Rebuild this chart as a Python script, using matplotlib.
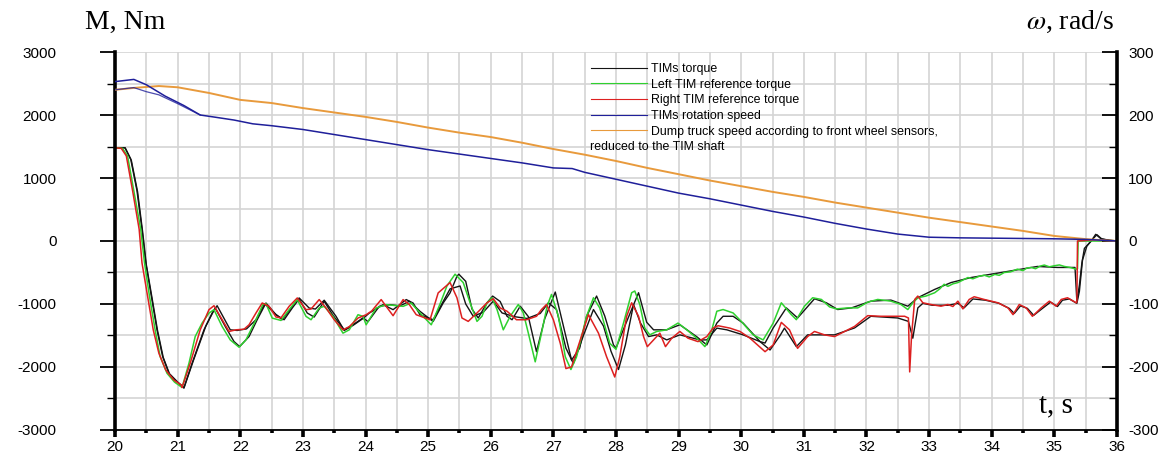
import matplotlib
matplotlib.use("Agg")
import matplotlib.pyplot as plt
from matplotlib.lines import Line2D
from matplotlib.ticker import MultipleLocator

plt.rcParams["font.family"] = ["Liberation Sans", "DejaVu Sans"]
plt.rcParams["mathtext.fontset"] = "stix"
plt.rcParams["axes.unicode_minus"] = False

# left TIM reference torque (green), Nm
t_left_ref = [20.0, 20.12, 20.2, 20.3, 20.41, 20.47, 20.55, 20.64, 20.72, 20.83, 20.95, 21.07,
              21.18, 21.28, 21.39, 21.5, 21.58, 21.71, 21.84, 21.98, 22.09, 22.25, 22.36, 22.41,
              22.51, 22.65, 22.78, 22.91, 23.05, 23.13, 23.26, 23.34, 23.48, 23.64, 23.74, 23.88,
              23.96, 24.01, 24.17, 24.33, 24.49, 24.6, 24.73, 24.92, 25.05, 25.19, 25.3, 25.43,
              25.56, 25.67, 25.78, 25.86, 25.94, 26.02, 26.1, 26.2, 26.31, 26.44, 26.52, 26.6,
              26.71, 26.81, 26.9, 26.97, 27.08, 27.19, 27.28, 27.37, 27.53, 27.64, 27.74, 27.9,
              28.0, 28.12, 28.25, 28.3, 28.38, 28.46, 28.54, 28.65, 28.81, 28.99, 29.13, 29.29,
              29.42, 29.53, 29.61, 29.71, 29.87, 30.0, 30.19, 30.35, 30.51, 30.64, 30.8, 30.88,
              31.01, 31.14, 31.28, 31.41, 31.52, 31.7, 31.86, 32.02, 32.18, 32.39, 32.55, 32.66,
              32.74, 32.82, 32.95, 33.09, 33.17, 33.24, 33.3, 33.38, 33.46, 33.54, 33.62, 33.7,
              33.8, 33.88, 33.96, 34.05, 34.12, 34.2, 34.3, 34.41, 34.5, 34.56, 34.63, 34.7,
              34.77, 34.84, 34.92, 35.0, 35.08, 35.16, 35.25, 35.35, 35.37, 35.38, 36.0]
left_ref = [1480, 1470, 1350, 800, 186, -346, -878, -1410, -1835, -2100, -2240, -2325,
            -1942, -1516, -1303, -1144, -1090, -1357, -1570, -1686, -1570, -1250, -1010, -995,
            -1224, -1261, -1090, -930, -1197, -1250, -1064, -1037, -1197, -1463, -1410, -1170,
            -1197, -1330, -1064, -1010, -1027, -1037, -984, -1197, -1330, -1000, -714, -527,
            -660, -981, -1276, -1195, -981, -901, -1088, -1410, -1195, -1008, -1142, -1463,
            -1918, -1463, -1035, -848, -1195, -1838, -2040, -1838, -1195, -901, -1062, -1624,
            -1720, -1303, -821, -794, -1008, -1383, -1490, -1436, -1410, -1303, -1410, -1543,
            -1677, -1410, -1115, -1088, -1142, -1276, -1490, -1570, -1303, -981, -1169, -1249,
            -1035, -901, -928, -1046, -1078, -1062, -1062, -971, -928, -955, -1008, -1088,
            -981, -901, -874, -821, -760, -687, -720, -680, -660, -620, -580, -600,
            -560, -543, -570, -530, -545, -500, -490, -447, -470, -430, -420, -440,
            -400, -382, -410, -393, -380, -404, -420, -447, -440, 0, 0]

# right TIM reference torque (red), Nm
t_right_ref = [20.0, 20.1, 20.18, 20.28, 20.385, 20.43, 20.52, 20.61, 20.7, 20.81, 20.94, 21.06,
               21.07, 21.2, 21.36, 21.5, 21.58, 21.71, 21.82, 21.93, 22.06, 22.14, 22.25, 22.35,
               22.46, 22.57, 22.65, 22.78, 22.91, 23.05, 23.13, 23.26, 23.37, 23.5, 23.64, 23.74,
               23.88, 24.01, 24.1, 24.25, 24.33, 24.44, 24.6, 24.7, 24.81, 25.03, 25.16, 25.35,
               25.46, 25.54, 25.64, 25.78, 25.94, 26.04, 26.15, 26.26, 26.41, 26.57, 26.73, 26.81,
               26.89, 27.0, 27.11, 27.2, 27.29, 27.43, 27.56, 27.72, 27.85, 27.98, 28.06, 28.17,
               28.25, 28.36, 28.44, 28.5, 28.6, 28.7, 28.79, 28.89, 29.02, 29.15, 29.31, 29.45,
               29.55, 29.63, 29.82, 29.98, 30.14, 30.38, 30.51, 30.64, 30.77, 30.9, 31.06, 31.17,
               31.33, 31.49, 31.65, 31.81, 32.02, 32.23, 32.45, 32.61, 32.67, 32.69, 32.72, 32.77,
               32.82, 32.9, 33.03, 33.19, 33.3, 33.38, 33.46, 33.54, 33.64, 33.72, 33.88, 34.1,
               34.26, 34.34, 34.44, 34.55, 34.65, 34.79, 34.92, 35.03, 35.11, 35.21, 35.35, 35.36,
               35.37, 35.6, 36.0]
right_ref = [1480, 1470, 1350, 800, 186, -346, -878, -1410, -1782, -2048, -2208, -2288,
             -2325, -1942, -1410, -1090, -1027, -1250, -1436, -1410, -1400, -1330, -1144, -984,
             -1037, -1207, -1220, -1037, -904, -1090, -1080, -930, -1064, -1250, -1410, -1360,
             -1223, -1170, -1110, -930, -1037, -1186, -930, -1010, -1170, -1250, -824, -660,
             -901, -1222, -1276, -1142, -981, -917, -1062, -1115, -1250, -1250, -1195, -1088,
             -1008, -1250, -1624, -2025, -1998, -1570, -1169, -1463, -1838, -2159, -1838, -1195,
             -981, -1195, -1517, -1677, -1570, -1463, -1677, -1543, -1436, -1543, -1597, -1517,
             -1383, -1345, -1383, -1436, -1543, -1757, -1650, -1292, -1410, -1704, -1517, -1436,
             -1490, -1517, -1436, -1356, -1185, -1195, -1195, -1195, -1222, -2078, -1500, -928,
             -874, -981, -1008, -1035, -1008, -1040, -955, -1078, -928, -885, -928, -981,
             -1062, -1169, -1008, -1062, -1195, -1062, -955, -1035, -928, -901, -981, -960,
             0, 15, 0]

# TIMs torque, left machine (black), Nm
t_left_torque = [20.0, 20.16, 20.25, 20.35, 20.43, 20.49, 20.58, 20.67, 20.76, 20.86, 20.99, 21.07,
                 21.1, 21.23, 21.42, 21.55, 21.6, 21.76, 21.9, 21.99, 22.14, 22.27, 22.41, 22.57,
                 22.7, 22.83, 22.94, 23.07, 23.18, 23.34, 23.48, 23.66, 23.8, 23.96, 24.04, 24.22,
                 24.39, 24.55, 24.7, 24.87, 25.08, 25.24, 25.35, 25.46, 25.49, 25.6, 25.7, 25.8,
                 25.94, 26.03, 26.15, 26.26, 26.34, 26.47, 26.6, 26.73, 26.86, 27.03, 27.16, 27.29,
                 27.42, 27.53, 27.69, 27.82, 27.96, 28.0, 28.12, 28.36, 28.49, 28.6, 28.81, 29.02,
                 29.29, 29.45, 29.61, 29.71, 29.87, 30.03, 30.3, 30.38, 30.51, 30.72, 30.9, 31.17,
                 31.36, 31.54, 31.76, 32.07, 32.39, 32.66, 32.82, 33.09, 33.35, 33.67, 33.99, 34.41,
                 34.73, 35.05, 35.33, 35.36, 35.4, 35.44, 35.48, 35.59, 35.66, 35.74, 35.9, 36.0]
left_torque = [1480, 1480, 1300, 800, 186, -346, -878, -1410, -1835, -2100, -2234, -2303,
               -2330, -1942, -1410, -1144, -1064, -1357, -1596, -1676, -1516, -1250, -984, -1170,
               -1250, -1064, -920, -1144, -1207, -957, -1180, -1410, -1330, -1220, -1280, -1037,
               -1010, -1030, -957, -1117, -1277, -984, -824, -560, -527, -640, -1080, -1222,
               -981, -874, -960, -1195, -1250, -1035, -1200, -1757, -1240, -810, -1350, -1891,
               -1700, -1195, -874, -1190, -1650, -1700, -1400, -821, -1290, -1410, -1410, -1330,
               -1520, -1650, -1303, -1195, -1195, -1303, -1597, -1620, -1380, -1062, -1222, -917,
               -981, -1088, -1062, -955, -938, -1035, -900, -768, -660, -580, -527, -457,
               -404, -420, -420, -960, -700, -350, -117, 0, 106, 40, 0, 0]

# TIMs torque, right machine (black), Nm
t_right_torque = [20.0, 20.16, 20.26, 20.36, 20.44, 20.5, 20.59, 20.68, 20.77, 20.87, 21.0, 21.08,
                  21.1, 21.25, 21.45, 21.58, 21.63, 21.84, 21.95, 22.1, 22.25, 22.39, 22.55, 22.67,
                  22.8, 22.94, 23.1, 23.2, 23.34, 23.53, 23.66, 23.8, 23.96, 24.06, 24.28, 24.44,
                  24.65, 24.76, 24.87, 25.08, 25.24, 25.35, 25.51, 25.6, 25.72, 25.88, 26.04, 26.18,
                  26.37, 26.58, 26.79, 26.92, 27.05, 27.2, 27.32, 27.48, 27.64, 27.8, 27.92, 28.04,
                  28.15, 28.28, 28.39, 28.52, 28.65, 28.81, 29.02, 29.34, 29.45, 29.61, 29.77, 30.03,
                  30.3, 30.46, 30.62, 30.69, 30.88, 31.06, 31.27, 31.49, 31.81, 32.07, 32.5, 32.67,
                  32.74, 32.82, 32.9, 33.05, 33.3, 33.46, 33.56, 33.7, 33.9, 34.12, 34.28, 34.36,
                  34.46, 34.57, 34.67, 34.81, 34.94, 35.05, 35.13, 35.24, 35.36, 35.4, 35.45, 35.52,
                  35.62, 35.68, 35.76, 36.0]
right_torque = [1480, 1480, 1280, 780, 150, -380, -900, -1430, -1850, -2110, -2240, -2310,
                -2335, -1900, -1350, -1100, -1027, -1410, -1420, -1395, -1250, -995, -1150, -1250,
                -1080, -904, -1064, -1080, -940, -1197, -1420, -1340, -1230, -1144, -1010, -1090,
                -930, -985, -1170, -1250, -960, -760, -714, -1000, -1195, -1130, -955, -1142,
                -1200, -1230, -1150, -981, -1088, -1700, -1945, -1500, -1088, -1350, -1750, -2040,
                -1650, -1008, -1300, -1517, -1490, -1570, -1490, -1570, -1570, -1383, -1410, -1490,
                -1597, -1730, -1500, -1383, -1677, -1490, -1490, -1490, -1380, -1195, -1222, -1276,
                -1543, -1062, -990, -1020, -1020, -990, -1060, -920, -940, -990, -1070, -1150,
                -1030, -1070, -1180, -1070, -970, -1040, -940, -920, -990, -800, -300, -80,
                40, 100, 30, 0]

# TIMs rotation speed (blue), rad/s
t_speed = [20.0, 20.3, 20.5, 20.8, 21.1, 21.36, 21.6, 21.9, 22.2, 22.5, 23.0, 23.5, 24.0, 24.5,
           25.0, 25.5, 26.0, 26.5, 27.0, 27.3, 27.5, 28.0, 28.5, 29.0, 29.5, 30.0, 30.5, 31.0,
           31.5, 32.0, 32.5, 33.0, 33.5, 34.0, 34.5, 35.0, 35.5, 35.8, 36.0]
speed = [253, 256.5, 248, 230, 215, 200, 196.5, 192, 186, 183, 177, 169, 161, 153,
         145, 138, 131, 124, 116, 115, 109, 98, 87, 76, 67, 57, 47, 38,
         28, 19, 11, 6, 5, 4.5, 4, 3.5, 2.5, 1, 0]
t_speed2 = [20.0, 20.3, 20.5, 20.7, 21.0, 21.36]
speed2 = [240, 243.5, 237, 232, 218, 200]

# dump truck speed from front wheel sensors (orange), rad/s
t_truck = [20.0, 20.3, 20.7, 21.0, 21.5, 22.0, 22.5, 23.0, 23.5, 24.0, 24.5, 25.0, 25.5, 26.0,
           26.5, 27.0, 27.5, 28.0, 28.5, 29.0, 29.5, 30.0, 30.5, 31.0, 31.5, 32.0, 32.5, 33.0,
           33.5, 34.0, 34.5, 35.0, 35.5, 35.8, 36.0]
truck = [240, 243, 246, 244, 235, 224, 219, 211, 204, 197, 189, 180, 172, 165,
         156, 146, 137, 127, 116, 106, 96, 87, 78, 70, 61, 53, 45, 37,
         30, 23, 16, 8, 3, 1, 0]

BLACK = "#141414"
GREEN = "#2fd12f"
RED = "#dd2020"
BLUE = "#1f1f9a"
ORANGE = "#e89a3c"
GRID = "#d4d4d4"

fig = plt.figure(figsize=(11.68, 4.59), dpi=100)
ax = fig.add_axes([0.0985, 0.0632, 0.8578, 0.8235])
ax2 = ax.twinx()

ax.plot(t_left_torque, left_torque, color=BLACK, lw=1.0)
ax.plot(t_right_torque, right_torque, color=BLACK, lw=1.0)
ax.plot(t_left_ref, left_ref, color=GREEN, lw=1.1)
ax.plot(t_right_ref, right_ref, color=RED, lw=1.1)

ax2.plot(t_truck, truck, color=ORANGE, lw=1.4)
ax2.plot(t_speed, speed, color=BLUE, lw=1.1)
ax2.plot(t_speed2, speed2, color=BLUE, lw=0.9, alpha=0.8)

ax.set_xlim(20, 36)
ax.set_ylim(-3000, 3000)
ax2.set_ylim(-300, 300)

ax.xaxis.set_major_locator(MultipleLocator(1))
ax.xaxis.set_minor_locator(MultipleLocator(0.5))
ax.yaxis.set_major_locator(MultipleLocator(1000))
ax.yaxis.set_minor_locator(MultipleLocator(500))
ax2.yaxis.set_major_locator(MultipleLocator(100))
ax2.yaxis.set_minor_locator(MultipleLocator(50))

ax.grid(True, which="both", color=GRID, lw=1.2)
ax.set_axisbelow(True)

for a in (ax, ax2):
    a.spines["top"].set_visible(False)
ax.spines["left"].set_linewidth(2.6)
ax.spines["bottom"].set_linewidth(1.3)
ax2.spines["right"].set_linewidth(2.6)
ax2.spines["left"].set_visible(False)
ax2.spines["bottom"].set_visible(False)

ax.tick_params(axis="y", which="major", direction="out", length=11, width=1.3, pad=31, labelsize=11)
ax.tick_params(axis="y", which="minor", direction="out", length=6, width=1.0)
ax.tick_params(axis="x", which="major", direction="out", length=5, width=2.6, pad=2, labelsize=11)
ax.tick_params(axis="x", which="minor", direction="out", length=2.5, width=2.6)
ax2.tick_params(axis="y", which="major", direction="in", length=11, width=1.3, pad=8, labelsize=11)
ax2.tick_params(axis="y", which="minor", direction="in", length=6, width=1.0)

fig.text(0.107, 0.952, "M, Nm", family="Liberation Serif", fontsize=20, ha="center", va="center")
fig.text(0.916, 0.952, r"$\omega$, rad/s", family="Liberation Serif", fontsize=20,
         ha="center", va="center")
ax.text(0.939, 0.064, "t, s", family="Liberation Serif", fontsize=21, transform=ax.transAxes,
        ha="center", va="center")

handles = [Line2D([], [], color=BLACK, lw=0.8),
           Line2D([], [], color=GREEN, lw=0.8),
           Line2D([], [], color=RED, lw=0.8),
           Line2D([], [], color=BLUE, lw=0.8),
           Line2D([], [], color=ORANGE, lw=0.8)]
labels = ["TIMs torque", "Left TIM reference torque", "Right TIM reference torque",
          "TIMs rotation speed", "Dump truck speed according to front wheel sensors,"]
leg = ax2.legend(handles, labels, loc="upper left", bbox_to_anchor=(0.475, 0.971), frameon=False,
                 fontsize=8.9, handlelength=4.5, handletextpad=0.35, labelspacing=0.3,
                 borderpad=0, borderaxespad=0)
ax2.text(0.474, 0.749, "reduced to the TIM shaft", fontsize=8.9, transform=ax2.transAxes,
         ha="left", va="center")

fig.savefig("out.png", dpi=100)
